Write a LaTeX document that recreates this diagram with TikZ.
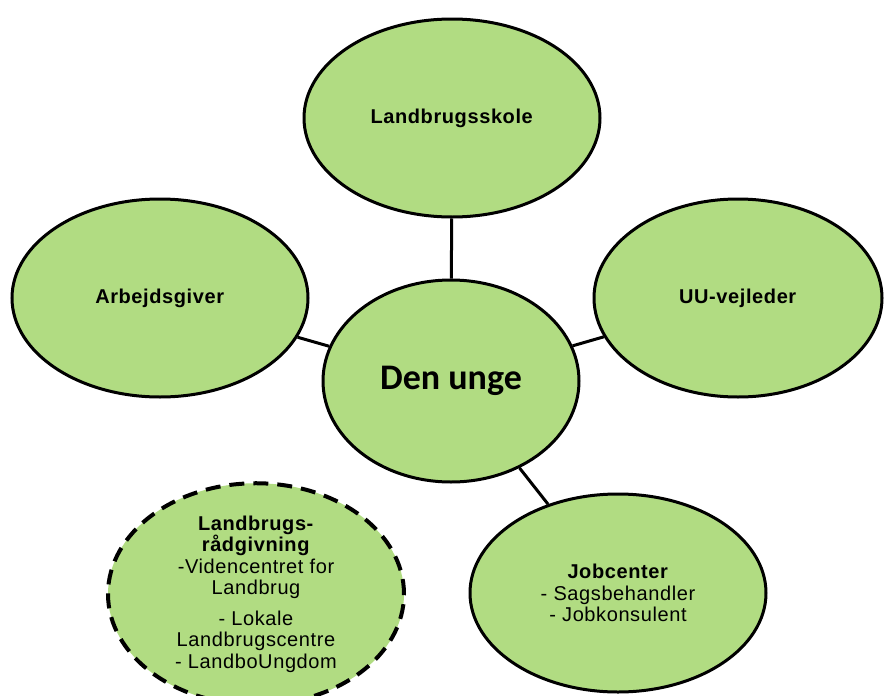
\documentclass[tikz,border=0pt]{standalone}
\usepackage{fontspec}
\setmainfont{Liberation Sans}[LetterSpace=3]
\newfontfamily\calibri{Carlito}
\usetikzlibrary{shapes.geometric}
\definecolor{leafgreen}{RGB}{177,220,130}

\begin{document}
\begin{tikzpicture}[x=1pt,y=-1pt]
        \useasboundingbox (0,0) rectangle (884,696);
        \tikzstyle{every node}=[ellipse, draw, line width=3pt, fill=leafgreen, inner sep=0pt,
            minimum width=296pt, minimum height=198pt, align=center,
            font=\fontsize{20}{21.5}\selectfont]
        \node (skole)  at (452,118) {\textbf{Landbrugsskole}};
        \node (giver)  at (160,298) {\textbf{Arbejdsgiver}};
        \node[minimum width=288pt] (uu) at (738,298) {\textbf{UU-vejleder}};
        \node[minimum width=256pt, minimum height=202pt,
            font=\calibri\bfseries\fontsize{36}{40}\selectfont] (unge) at (451,381) {Den unge};
        \node (job)    at (618,593) {\textbf{Jobcenter}\\- Sagsbehandler\\- Jobkonsulent};
        \node[line width=4pt, dash pattern=on 15pt off 9pt] (raad) at (256,594)
            {\textbf{Landbrugs-}\\\textbf{rådgivning}\\-Videncentret for\\Landbrug\\[9pt]- Lokale\\Landbrugscentre\\- LandboUngdom};
        \tikzstyle{every node}=[fill=none]
        \tikzstyle{every path}=[line width=3pt]
        \draw (skole) -- (unge);
        \draw (giver) -- (unge);
        \draw (uu) -- (unge);
        \draw (unge) -- (job);
\end{tikzpicture}
\end{document}
